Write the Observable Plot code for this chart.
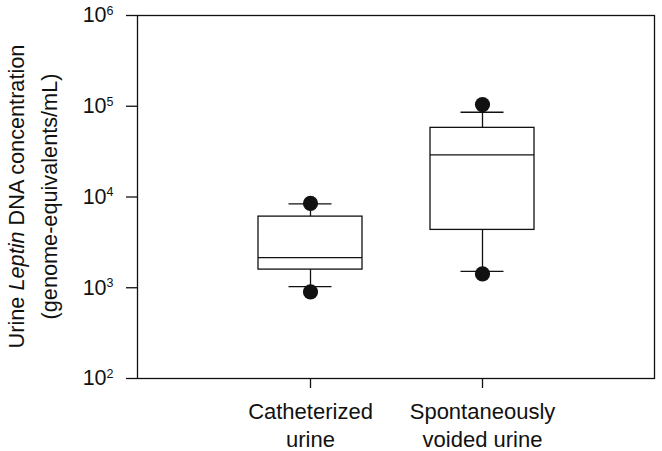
<!DOCTYPE html>
<html>
<head>
<meta charset="utf-8">
<script src="https://cdn.jsdelivr.net/npm/d3@7"></script>
<script src="https://cdn.jsdelivr.net/npm/@observablehq/plot@0.6"></script>
<style>
  html, body { margin: 0; padding: 0; background: #fff; }
  #chart svg { display: block; }
</style>
</head>
<body>
<div id="chart"></div>
<script>
// ---- Data ----
const categories = ["Catheterized\nurine", "Spontaneously\nvoided urine"];
const whiskerLow  = [1028, 1517];
const q1          = [1585, 4340];
const median      = [2150, 29100];
const q3          = [6080, 57800];
const whiskerHigh = [8400, 85900];
const dotLow      = [901, 1420];
const dotHigh     = [8500, 104400];
const yTickValues = [1e2, 1e3, 1e4, 1e5, 1e6];
const yTitleLine1 = ["Urine ", "Leptin", " DNA concentration"];
const yTitleLine2 = "(genome-equivalents/mL)";

const rows = categories.map((c, i) => ({
  cat: c, lo: whiskerLow[i], q1: q1[i], med: median[i], q3: q3[i], hi: whiskerHigh[i]
}));
const dots = categories.flatMap((c, i) => [
  {cat: c, v: dotLow[i]}, {cat: c, v: dotHigh[i]}
]);

const ink = "#111";
const sw = 1.3;

const chart = Plot.plot({
  width: 662,
  height: 451,
  marginLeft: 137,
  marginRight: 8,
  marginTop: 15,
  marginBottom: 73,
  style: {fontFamily: "'Liberation Sans', Arial, sans-serif", color: ink, background: "#fff"},
  x: {type: "band", domain: categories, paddingInner: 0.396, paddingOuter: 0.698, label: null},
  y: {type: "log", domain: [1e2, 1e6], label: null},
  marks: [
    Plot.ruleX(rows, {x: "cat", y1: "lo", y2: "q1", stroke: ink, strokeWidth: sw}),
    Plot.ruleX(rows, {x: "cat", y1: "q3", y2: "hi", stroke: ink, strokeWidth: sw}),
    Plot.tickY(rows, {x: "cat", y: "lo", insetLeft: 30.5, insetRight: 30.5, stroke: ink, strokeWidth: sw}),
    Plot.tickY(rows, {x: "cat", y: "hi", insetLeft: 30.5, insetRight: 30.5, stroke: ink, strokeWidth: sw}),
    Plot.barY(rows, {x: "cat", y1: "q1", y2: "q3", fill: "white", stroke: ink, strokeWidth: sw}),
    Plot.tickY(rows, {x: "cat", y: "med", stroke: ink, strokeWidth: sw}),
    Plot.dot(dots, {x: "cat", y: "v", r: 7.6, fill: ink, stroke: "none"}),
    Plot.frame({stroke: ink, strokeWidth: sw}),
    Plot.axisY({ticks: yTickValues, tickSize: 11, tickPadding: 13, fontSize: 21.5,
      tickFormat: d => "10|" + Math.round(Math.log10(d)), stroke: ink, strokeWidth: sw}),
    Plot.axisX({tickSize: 10, tickPadding: 11, fontSize: 22, lineHeight: 1.26,
      stroke: ink, strokeWidth: sw})
  ]
});

document.getElementById("chart").appendChild(chart);

// Superscript exponents on y tick labels
const svg = d3.select(chart);
svg.selectAll('g[aria-label="y-axis tick label"] text').each(function() {
  const t = d3.select(this);
  const parts = t.text().split("|");
  t.text(null);
  t.append("tspan").text(parts[0]);
  t.append("tspan").attr("font-size", 12.5).attr("dy", -7.5).text(parts[1]);
});

// Y-axis title (two lines, rotated), with italic gene name
const cy = 196.5;
const t1 = svg.append("text")
  .attr("transform", `translate(23.5,${cy}) rotate(-90)`)
  .attr("text-anchor", "middle").attr("font-size", 21.7).attr("fill", ink);
yTitleLine1.forEach((s, i) => {
  const sp = t1.append("tspan").text(s);
  if (i === 1) sp.attr("font-style", "italic");
});
svg.append("text")
  .attr("transform", `translate(56.5,${cy}) rotate(-90)`)
  .attr("text-anchor", "middle").attr("font-size", 21.7).attr("fill", ink)
  .text(yTitleLine2);
</script>
</body>
</html>
